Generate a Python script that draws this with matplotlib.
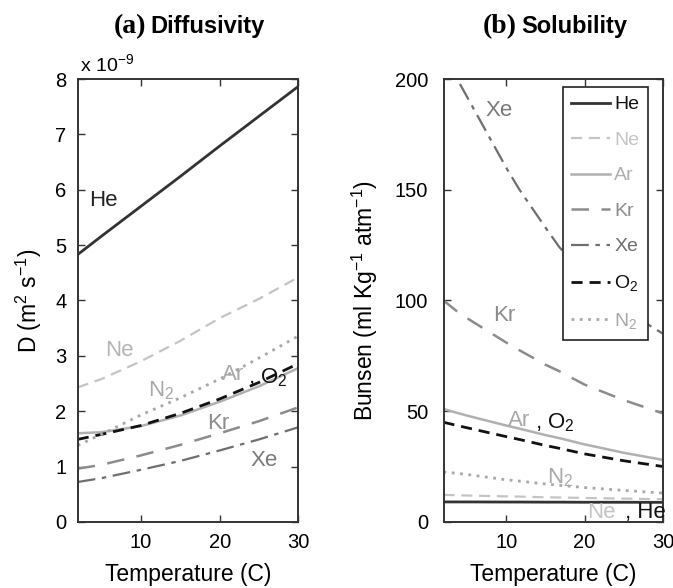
import matplotlib
matplotlib.use("Agg")
import matplotlib.pyplot as plt
import numpy as np

plt.rcParams['font.family'] = ['Liberation Sans', 'DejaVu Sans']
plt.rcParams['mathtext.fontset'] = 'custom'
plt.rcParams['mathtext.rm'] = 'Liberation Sans'
plt.rcParams['mathtext.it'] = 'Liberation Sans'

# ---------------- data ----------------
temp_d = [2, 5, 10, 15, 20, 25, 30]
# Diffusivity (x 1e-9 m^2 s^-1)
D_He = [4.83, 5.16, 5.70, 6.24, 6.79, 7.33, 7.87]
D_Ne = [2.43, 2.58, 2.90, 3.27, 3.68, 4.03, 4.42]
D_Ar = [1.60, 1.62, 1.73, 1.92, 2.17, 2.45, 2.78]
D_Kr = [0.96, 1.03, 1.20, 1.39, 1.60, 1.82, 2.07]
D_Xe = [0.72, 0.79, 0.94, 1.10, 1.29, 1.49, 1.71]
D_O2 = [1.49, 1.58, 1.74, 1.96, 2.22, 2.52, 2.86]
D_N2 = [1.38, 1.58, 1.93, 2.24, 2.58, 2.96, 3.36]

temp_s = [2, 3.75, 5, 10, 11.7, 15, 16.8, 20, 25, 30]
# Bunsen solubility (ml kg^-1 atm^-1)
S_He = [9.0, 9.0, 9.0, 8.95, 8.95, 8.9, 8.9, 8.85, 8.85, 8.8]
S_Ne = [12.2, 12.0, 11.9, 11.5, 11.4, 11.1, 11.0, 10.8, 10.5, 10.2]
S_Ar = [51.0, 49.2, 48.0, 43.5, 42.1, 39.2, 37.8, 35.0, 31.2, 28.0]
S_Kr = [100.0, 95.0, 92.0, 81.0, 77.5, 71.0, 68.0, 62.0, 55.0, 49.0]
S_Xe = [212.0, 200.0, 192.0, 160.0, 150.0, 133.0, 124.0, 112.0, 96.0, 85.0]
S_O2 = [45.0, 43.5, 42.5, 38.5, 37.2, 34.5, 33.2, 30.7, 27.6, 25.0]
S_N2 = [22.5, 21.9, 21.4, 19.0, 18.4, 17.1, 16.5, 15.5, 14.2, 13.0]

gases = ['He', 'Ne', 'Ar', 'Kr', 'Xe', 'O$_2$', 'N$_2$']
colors = ['#333333', '#c4c4c4', '#b0b0b0', '#8c8c8c', '#6e6e6e', '#111111', '#a8a8a8']
styles = ['-', (0, (5, 3)), '-', (0, (7, 5)), (0, (8, 3, 2, 3)), (0, (4, 2.5)), (0, (1, 2))]
widths = [2.0, 1.6, 1.8, 1.8, 1.6, 2.0, 2.0]

D_all = [D_He, D_Ne, D_Ar, D_Kr, D_Xe, D_O2, D_N2]
S_all = [S_He, S_Ne, S_Ar, S_Kr, S_Xe, S_O2, S_N2]

fig = plt.figure(figsize=(6.73, 5.88), dpi=100)
ax1 = fig.add_axes([0.1155, 0.1125, 0.328, 0.7530])
ax2 = fig.add_axes([0.659, 0.1125, 0.326, 0.7530])

for ax in (ax1, ax2):
    ax.tick_params(direction='in', top=True, right=True, length=5, width=1.0,
                   labelsize=14.5, pad=8, color='#333333')
    for s in ax.spines.values():
        s.set_linewidth(1.4)
        s.set_color('#333333')
    ax.set_xlim(2, 30)
    ax.set_xticks([10, 20, 30])
    ax.set_xlabel('Temperature (C)', fontsize=16.5, labelpad=8)
ax2.tick_params(axis='y', pad=11)

for y, c, ls, lw in zip(D_all, colors, styles, widths):
    ax1.plot(temp_d, y, color=c, linestyle=ls, linewidth=lw)
ax1.set_ylim(0, 8)
ax1.set_yticks(range(0, 9))
ax1.set_ylabel('D (m$^2$ s$^{-1}$)', fontsize=16.5, labelpad=8)
ax1.text(0.01, 1.01, 'x 10$^{-9}$', transform=ax1.transAxes, fontsize=14, ha='left', va='bottom')

lbl = dict(fontsize=16, va='center', ha='left')
ax1.text(3.5, 5.8, 'He', color='#222222', **lbl)
ax1.text(5.5, 3.1, 'Ne', color='#b5b5b5', **lbl)
ax1.text(10.9, 2.37, 'N$_2$', color='#a8a8a8', **lbl)
ax1.text(20.3, 2.67, 'Ar', color='#a8a8a8', **lbl)
ax1.text(23.6, 2.6, ', O$_2$', color='#111111', **lbl)
ax1.text(18.4, 1.78, 'Kr', color='#8c8c8c', **lbl)
ax1.text(23.9, 1.1, 'Xe', color='#7a7a7a', **lbl)

for y, c, ls, lw, g in zip(S_all, colors, styles, widths, gases):
    ax2.plot(temp_s, y, color=c, linestyle=ls, linewidth=lw, label=g)
ax2.set_ylim(0, 200)
ax2.set_yticks([0, 50, 100, 150, 200])
ax2.set_ylabel('Bunsen (ml Kg$^{-1}$ atm$^{-1}$)', fontsize=16.5, labelpad=11)

ax2.text(7.3, 186, 'Xe', color='#7a7a7a', **lbl)
ax2.text(8.3, 93, 'Kr', color='#8c8c8c', **lbl)
ax2.text(10.2, 46, 'Ar', color='#a8a8a8', **lbl)
ax2.text(13.7, 45, ', O$_2$', color='#111111', **lbl)
ax2.text(15.2, 20, 'N$_2$', color='#a8a8a8', **lbl)
ax2.text(20.3, 4.0, 'Ne', color='#c4c4c4', **lbl)
ax2.text(25.2, 4.0, ', He', color='#111111', **lbl)

leg = ax2.legend(loc='upper right', bbox_to_anchor=(0.932, 0.982), fontsize=14,
                 handlelength=2.0, handletextpad=0.2, labelspacing=0.92,
                 borderpad=0.45, frameon=True, fancybox=False, borderaxespad=0,
                 framealpha=1)
leg.get_frame().set_edgecolor('#222222')
leg.get_frame().set_linewidth(1.2)
for t, c in zip(leg.get_texts(), colors):
    t.set_color(c if c not in ('#333333', '#111111') else '#111111')

fig.text(0.217, 0.955, '(a)', fontsize=20, fontweight='bold', family='Liberation Serif', ha='right', va='center')
fig.text(0.224, 0.955, 'Diffusivity', fontsize=17, fontweight='bold', ha='left', va='center')
fig.text(0.768, 0.955, '(b)', fontsize=20, fontweight='bold', family='Liberation Serif', ha='right', va='center')
fig.text(0.774, 0.955, 'Solubility', fontsize=17, fontweight='bold', ha='left', va='center')

fig.savefig('out.png', dpi=100)
